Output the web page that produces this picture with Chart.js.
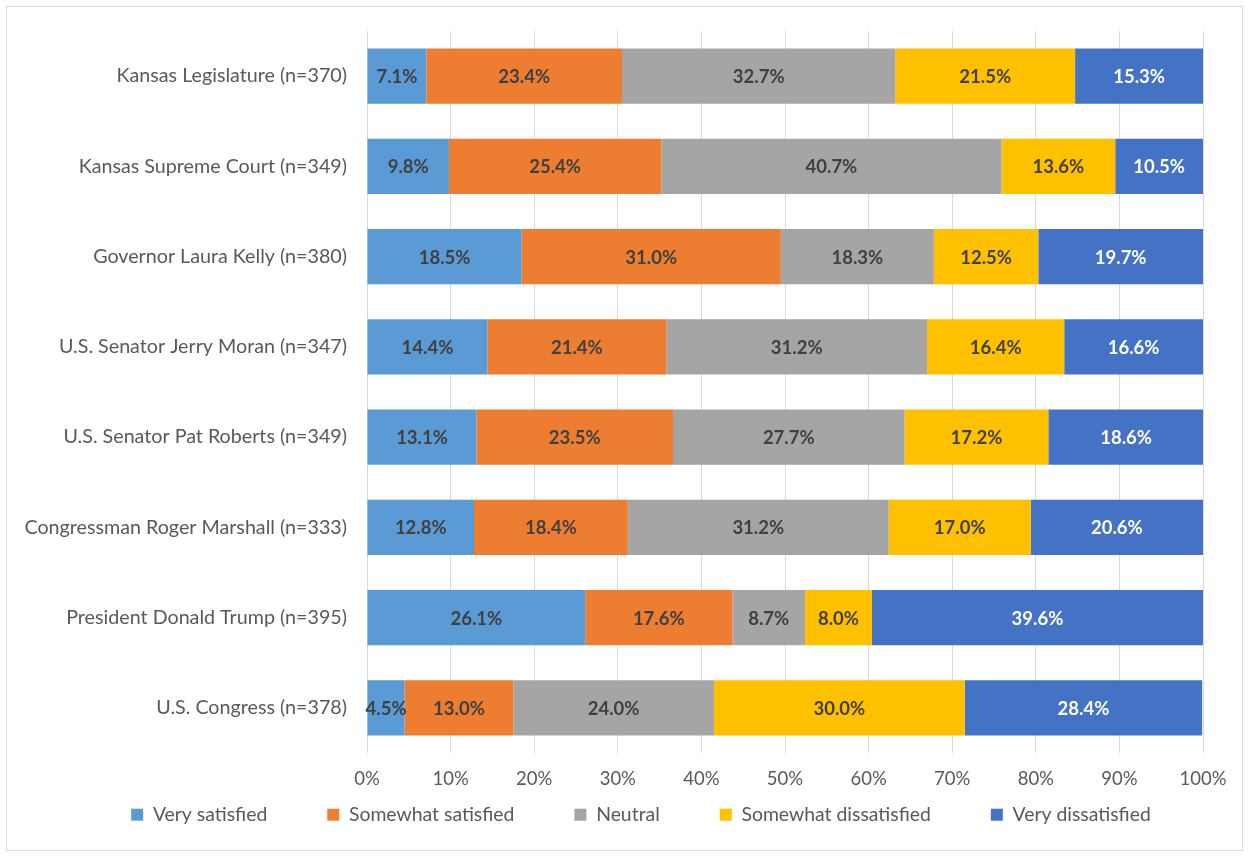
<!DOCTYPE html>
<html lang="en">
<head>
<meta charset="UTF-8">
<title>Satisfaction chart</title>
<script src="https://cdn.jsdelivr.net/npm/chart.js"></script>
<style>
  html, body { margin: 0; padding: 0; background: #fff; }
  #wrap { position: absolute; left: 0; top: 0; width: 1249px; height: 857px; }
</style>
</head>
<body>
<div id="wrap"><canvas id="chart"></canvas></div>
<script>
var categories = [
  'Kansas Legislature (n=370)',
  'Kansas Supreme Court (n=349)',
  'Governor Laura Kelly (n=380)',
  'U.S. Senator Jerry Moran (n=347)',
  'U.S. Senator Pat Roberts (n=349)',
  'Congressman Roger Marshall (n=333)',
  'President Donald Trump (n=395)',
  'U.S. Congress (n=378)'
];
var verySatisfied        = [7.1, 9.8, 18.5, 14.4, 13.1, 12.8, 26.1, 4.5];
var somewhatSatisfied    = [23.4, 25.4, 31.0, 21.4, 23.5, 18.4, 17.6, 13.0];
var neutral              = [32.7, 40.7, 18.3, 31.2, 27.7, 31.2, 8.7, 24.0];
var somewhatDissatisfied = [21.5, 13.6, 12.5, 16.4, 17.2, 17.0, 8.0, 30.0];
var veryDissatisfied     = [15.3, 10.5, 19.7, 16.6, 18.6, 20.6, 39.6, 28.4];

var seriesNames = ['Very satisfied', 'Somewhat satisfied', 'Neutral', 'Somewhat dissatisfied', 'Very dissatisfied'];
var seriesData = [verySatisfied, somewhatSatisfied, neutral, somewhatDissatisfied, veryDissatisfied];
var seriesColors = ['#5B9BD5', '#ED7D31', '#A5A5A5', '#FFC000', '#4472C4'];
var labelColors = ['#404040', '#404040', '#404040', '#404040', '#ffffff'];

var FONT = 'Lato, "Open Sans", sans-serif';

// background + outer frame
var framePlugin = {
  id: 'frame',
  beforeDraw: function(chart) {
    var c = chart.ctx;
    c.save();
    c.fillStyle = '#fff';
    c.fillRect(0, 0, chart.width, chart.height);
    c.strokeStyle = '#D9D9D9';
    c.lineWidth = 1;
    c.strokeRect(6.5, 6.5, chart.width - 13, chart.height - 13);
    c.restore();
  }
};

// the wide legend padding is only wanted sideways: reserve a short box
// for it in the layout and pull it up under the axis labels
var legendPlace = {
  id: 'legendPlace',
  beforeLayout: function(chart) {
    var lg = chart.legend;
    if (!lg || lg._patched) return;
    var fit = lg.fit;
    lg.fit = function() { fit.call(this); this.height = 40; };
    lg._patched = true;
  },
  afterLayout: function(chart) {
    var lg = chart.legend;
    lg.top = chart.chartArea.bottom - 8;
    lg.height = 100;
    lg.bottom = lg.top + lg.height;
    lg.left += 36;
    lg.right += 36;
  }
};

// value labels in the middle of each segment
var valueLabels = {
  id: 'valueLabels',
  afterDatasetsDraw: function(chart) {
    var c = chart.ctx;
    c.save();
    c.font = 'bold 18.5px ' + FONT;
    c.textAlign = 'center';
    c.textBaseline = 'middle';
    chart.data.datasets.forEach(function(ds, i) {
      var meta = chart.getDatasetMeta(i);
      meta.data.forEach(function(bar, j) {
        var p = bar.getProps(['x', 'y', 'base'], true);
        c.fillStyle = labelColors[i];
        c.fillText(ds.data[j].toFixed(1) + '%', (p.x + p.base) / 2, p.y + 1);
      });
    });
    c.restore();
  }
};

var datasets = seriesNames.map(function(name, i) {
  return {
    label: name,
    data: seriesData[i],
    backgroundColor: seriesColors[i],
    borderWidth: 0,
    barPercentage: 0.61,
    categoryPercentage: 1.0
  };
});

new Chart(document.getElementById('chart'), {
  type: 'bar',
  data: { labels: categories, datasets: datasets },
  options: {
    indexAxis: 'y',
    responsive: true,
    maintainAspectRatio: false,
    animation: false,
    layout: { padding: { top: 31, left: 7, right: 46, bottom: 18 } },
    scales: {
      x: {
        stacked: true,
        min: 0,
        max: 100,
        ticks: {
          stepSize: 10,
          color: '#595959',
          font: { family: FONT, size: 18.5 },
          padding: 15,
          callback: function(v) { return v + '%'; }
        },
        grid: { color: '#D9D9D9', drawTicks: false },
        border: { display: false },
        afterFit: function(s) { s.height = 46; }
      },
      y: {
        stacked: true,
        ticks: {
          color: '#595959',
          font: { family: FONT, size: 19.7 },
          padding: 12
        },
        grid: { display: false },
        border: { display: false },
        afterFit: function(s) { s.width = 360; }
      }
    },
    plugins: {
      legend: {
        position: 'bottom',
        labels: {
          color: '#595959',
          font: { family: FONT, size: 19.4 },
          boxWidth: 12,
          boxHeight: 12,
          padding: 60
        }
      },
      tooltip: { enabled: false }
    }
  },
  plugins: [framePlugin, legendPlace, valueLabels]
});
</script>
</body>
</html>
